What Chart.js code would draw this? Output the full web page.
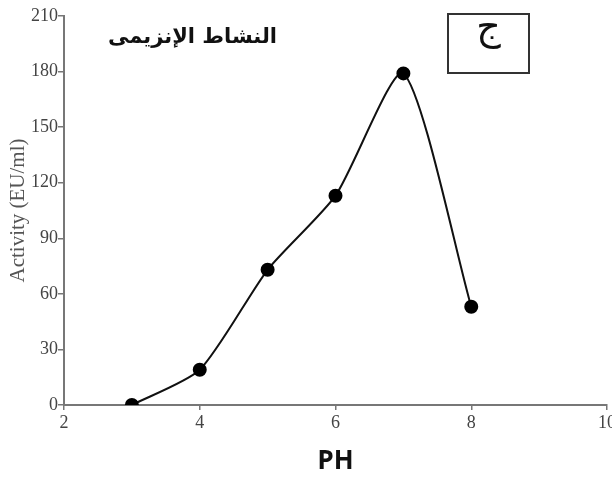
<!DOCTYPE html>
<html><head><meta charset="utf-8">
<script src="https://cdn.jsdelivr.net/npm/chart.js@4"></script>
<style>
html,body{margin:0;padding:0;background:#fff;overflow:hidden;}
#wrap{position:relative;width:612px;height:481px;overflow:hidden;}
#title{position:absolute;left:100px;top:24px;width:185px;text-align:center;font:bold 21px "DejaVu Sans",sans-serif;color:#111;direction:rtl;}
#box{position:absolute;left:447px;top:13px;width:79px;height:57px;border:2px solid #333;box-sizing:content-box;text-align:center;font:38px "DejaVu Sans",sans-serif;color:#111;line-height:22px;}
</style></head>
<body><div id="wrap"><canvas id="c" width="618" height="481"></canvas>
<div id="title">النشاط الإنزيمى</div>
<div id="box">ج</div></div>
<script>
const phValues = [3, 4, 5, 6, 7, 8];
const activity = [0, 19, 73, 113, 179, 53];
const xTicks = [2, 4, 6, 8, 10];
const yTicks = [0, 30, 60, 90, 120, 150, 180, 210];
const xLabel = "PH";
const yLabel = "Activity (EU/ml)";

new Chart(document.getElementById('c'), {
  type: 'scatter',
  data: { datasets: [{
    data: phValues.map((x, i) => ({x, y: activity[i]})),
    showLine: true, borderColor: '#111', borderWidth: 2, tension: 0.22,
    pointRadius: 6, pointBackgroundColor: '#000', pointBorderColor: '#000'
  }]},
  options: {
    responsive: false, animation: false,
    layout: { padding: { top: 16, right: 0, left: 0, bottom: 0 } },
    plugins: { legend: { display: false }, tooltip: { enabled: false } },
    scales: {
      x: {
        type: 'linear', min: 2, max: 10,
        afterBuildTicks: s => { s.ticks = xTicks.map(v => ({value: v})); },
        grid: { drawOnChartArea: false, color: '#777', tickLength: 5, lineWidth: 1.5 },
        border: { color: '#777', width: 2 },
        ticks: { color: '#444', font: { family: 'Liberation Serif', size: 18 }, padding: 2, maxRotation: 0 },
        title: { display: true, text: xLabel, color: '#111', font: { family: 'Noto Sans', weight: 'bold', size: 26 }, padding: { top: 0 } },
        afterFit: s => { s.height = 76; }
      },
      y: {
        min: 0, max: 210,
        afterBuildTicks: s => { s.ticks = yTicks.map(v => ({value: v})); },
        grid: { drawOnChartArea: false, color: '#777', tickLength: 6, lineWidth: 1.5 },
        border: { color: '#777', width: 2 },
        ticks: { color: '#444', font: { family: 'Liberation Serif', size: 18 }, padding: 0 },
        title: { display: true, text: yLabel, color: '#555', font: { family: 'Liberation Serif', size: 21 }, padding: { top: 6, bottom: 0 } },
        afterFit: s => { s.width = 64; }
      }
    }
  }
});
</script></body></html>
